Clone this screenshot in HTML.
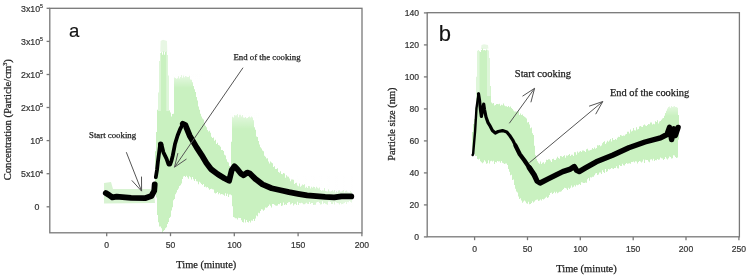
<!DOCTYPE html>
<html><head><meta charset="utf-8"><style>
html,body{margin:0;padding:0;background:#fff;width:748px;height:277px;overflow:hidden}
svg{display:block}
</style></head><body>
<svg width="748" height="277" viewBox="0 0 748 277">
<defs><filter id="bl" x="-5%" y="-5%" width="110%" height="110%"><feGaussianBlur stdDeviation="0.6"/></filter></defs>
<g filter="url(#bl)">
<polygon points="104,183 111,182 113,189 150,189 154,190 155,203 104,203.5" fill="#d8f3d2"/>
<polygon points="160.3,52 160.6,41 163,39.8 167,41 167.3,52" fill="#e8f7e4"/>
<polygon points="481,49 481.5,45 484,44.3 488,45 488.5,49" fill="#e8f7e4"/>
<path d="M153.5 186.7V197.8M154.5 184.3V194.8M155.5 151.3V188.8M156.5 131.9V197.6M157.5 109.8V215.1M158.5 92.6V222.2M159.5 61.0V226.4M160.5 53.1V226.4M161.5 52.2V228.2M162.5 54.7V232.9M163.5 51.4V231.0M164.5 54.7V230.0M165.5 51.9V228.2M166.5 51.2V227.3M167.5 55.0V224.1M168.5 75.4V222.0M169.5 110.3V218.1M170.5 112.6V216.7M171.5 116.6V210.5M172.5 114.1V207.3M173.5 113.7V200.3M174.5 77.6V198.9M175.5 78.1V194.2M176.5 78.8V192.4M177.5 78.3V189.9M178.5 76.3V188.5M179.5 78.4V185.9M180.5 76.9V185.2M181.5 75.0V183.6M182.5 77.8V178.9M183.5 75.4V176.4M184.5 77.2V176.0M185.5 75.9V177.0M186.5 76.5V175.8M187.5 76.9V177.3M188.5 77.1V178.7M189.5 75.8V176.3M190.5 79.6V177.3M191.5 79.7V179.5M192.5 82.3V177.0M193.5 85.9V179.3M194.5 89.2V181.0M195.5 91.9V178.9M196.5 97.1V181.3M197.5 100.4V181.6M198.5 106.6V184.2M199.5 109.7V181.8M200.5 113.8V182.7M201.5 116.4V184.1M202.5 118.4V185.0M203.5 119.4V183.9M204.5 124.0V187.0M205.5 125.8V186.5M206.5 127.3V187.6M207.5 130.0V187.1M208.5 131.6V188.3M209.5 130.8V189.7M210.5 132.7V189.0M211.5 136.8V188.7M212.5 138.1V189.2M213.5 137.6V189.5M214.5 140.7V192.7M215.5 139.8V193.4M216.5 143.9V192.9M217.5 142.8V191.9M218.5 144.9V194.3M219.5 145.4V193.1M220.5 146.7V194.4M221.5 150.0V194.1M222.5 150.0V194.3M223.5 151.1V194.8M224.5 154.7V195.7M225.5 155.6V193.2M226.5 159.3V195.9M227.5 161.7V193.8M228.5 162.6V196.9M229.5 166.1V194.4M230.5 169.2V194.6M231.5 141.7V195.3M232.5 116.8V206.3M233.5 117.4V216.9M234.5 115.1V217.4M235.5 115.6V218.2M236.5 115.2V218.2M237.5 114.1V219.6M238.5 117.3V217.7M239.5 114.7V218.0M240.5 114.8V218.0M241.5 116.6V220.3M242.5 115.1V222.1M243.5 117.6V222.4M244.5 117.7V219.3M245.5 117.0V222.6M246.5 118.3V220.0M247.5 118.0V222.1M248.5 117.0V222.6M249.5 116.6V221.1M250.5 117.6V222.5M251.5 116.6V220.4M252.5 117.5V220.7M253.5 120.2V219.0M254.5 127.3V221.1M255.5 129.7V218.6M256.5 136.5V215.6M257.5 136.9V216.3M258.5 140.9V212.7M259.5 144.6V213.2M260.5 147.2V211.1M261.5 148.5V209.2M262.5 150.4V209.4M263.5 151.3V210.7M264.5 155.8V209.8M265.5 156.7V207.6M266.5 158.5V207.8M267.5 158.2V207.3M268.5 161.6V205.9M269.5 163.4V204.6M270.5 161.5V205.7M271.5 162.4V207.4M272.5 163.3V204.1M273.5 166.9V204.1M274.5 166.3V204.7M275.5 168.9V205.4M276.5 169.1V205.8M277.5 168.2V205.4M278.5 171.9V204.1M279.5 172.8V204.3M280.5 171.2V203.0M281.5 174.0V205.9M282.5 174.2V205.5M283.5 172.9V202.5M284.5 173.4V204.9M285.5 177.7V204.2M286.5 175.2V205.0M287.5 176.5V202.9M288.5 176.7V202.2M289.5 178.5V201.9M290.5 181.2V204.4M291.5 179.4V203.7M292.5 179.4V203.0M293.5 179.8V205.4M294.5 183.9V204.3M295.5 183.1V203.7M296.5 182.7V205.1M297.5 185.6V201.7M298.5 186.2V204.9M299.5 183.6V203.0M300.5 186.7V203.2M301.5 185.8V202.8M302.5 184.5V203.2M303.5 184.9V204.3M304.5 184.2V204.2M305.5 187.8V203.5M306.5 186.8V202.8M307.5 188.1V203.7M308.5 186.0V203.9M309.5 186.2V202.0M310.5 188.6V204.0M311.5 186.7V203.1M312.5 187.8V202.9M313.5 186.8V205.0M314.5 187.0V204.8M315.5 188.4V204.7M316.5 186.8V202.6M317.5 187.8V202.0M318.5 188.6V201.8M319.5 187.5V203.1M320.5 190.0V204.6M321.5 190.7V204.3M322.5 190.2V201.2M323.5 190.5V203.7M324.5 188.0V202.9M325.5 191.1V203.7M326.5 191.2V204.3M327.5 191.4V204.7M328.5 189.3V201.4M329.5 191.3V201.4M330.5 191.5V202.0M331.5 191.1V204.1M332.5 190.3V204.1M333.5 191.5V202.2M334.5 189.9V204.4M335.5 192.5V201.7M336.5 191.1V202.6M337.5 192.3V202.9M338.5 190.6V203.3M339.5 190.2V204.5M340.5 191.7V203.0M341.5 191.5V204.3M342.5 190.7V204.0M343.5 189.9V203.5M344.5 192.6V202.9M345.5 191.1V201.9M346.5 190.5V204.0M347.5 191.7V202.1M348.5 192.2V202.2M349.5 192.5V201.0M350.5 191.1V201.7M351.5 192.1V202.6" stroke="#c9f1c0" stroke-width="1.02" fill="none"/>
<path d="M472.5 132.1V152.1M473.5 124.1V155.8M474.5 119.1V154.0M475.5 107.5V156.1M476.5 76.7V156.0M477.5 50.7V159.1M478.5 50.1V159.6M479.5 51.2V158.8M480.5 52.0V161.2M481.5 50.1V162.3M482.5 48.6V163.3M483.5 50.2V162.3M484.5 49.9V160.3M485.5 50.4V161.6M486.5 49.4V163.7M487.5 49.7V163.3M488.5 50.4V160.2M489.5 57.9V163.4M490.5 86.1V161.2M491.5 102.6V160.8M492.5 103.6V161.4M493.5 102.9V160.7M494.5 105.6V163.9M495.5 104.9V161.9M496.5 103.9V162.5M497.5 104.1V161.1M498.5 104.2V161.4M499.5 103.7V161.2M500.5 105.8V162.8M501.5 104.7V161.1M502.5 105.3V162.7M503.5 103.6V163.3M504.5 105.4V163.9M505.5 106.2V163.5M506.5 106.3V163.4M507.5 106.9V164.9M508.5 105.9V169.0M509.5 107.2V171.8M510.5 106.6V175.2M511.5 108.0V174.7M512.5 109.1V179.9M513.5 110.5V179.6M514.5 111.4V184.9M515.5 111.5V188.8M516.5 111.8V191.4M517.5 111.0V192.6M518.5 111.4V196.4M519.5 115.0V199.0M520.5 113.4V198.3M521.5 115.1V200.5M522.5 114.5V202.7M523.5 116.1V201.6M524.5 116.8V200.6M525.5 117.6V201.5M526.5 118.6V203.3M527.5 122.5V203.7M528.5 121.9V201.8M529.5 124.4V204.3M530.5 128.3V203.9M531.5 127.4V203.1M532.5 133.2V201.2M533.5 134.9V202.4M534.5 145.7V201.6M535.5 155.3V200.2M536.5 158.7V199.8M537.5 161.3V199.6M538.5 162.7V201.1M539.5 163.8V200.4M540.5 161.5V199.6M541.5 164.1V200.4M542.5 162.8V199.1M543.5 162.3V199.6M544.5 163.7V198.8M545.5 162.2V197.7M546.5 159.8V196.7M547.5 160.0V198.0M548.5 159.3V197.2M549.5 159.3V194.9M550.5 160.6V193.1M551.5 162.0V192.6M552.5 159.1V194.1M553.5 158.8V193.1M554.5 159.9V191.8M555.5 159.9V193.3M556.5 158.5V191.8M557.5 156.7V193.2M558.5 157.9V192.6M559.5 158.7V191.8M560.5 156.1V191.7M561.5 156.3V191.2M562.5 157.0V190.0M563.5 155.9V189.0M564.5 155.3V187.7M565.5 157.7V188.0M566.5 155.5V188.5M567.5 155.8V189.9M568.5 155.0V187.8M569.5 153.9V189.1M570.5 156.0V187.8M571.5 154.7V185.4M572.5 154.8V187.4M573.5 156.0V186.8M574.5 152.2V185.3M575.5 152.3V186.4M576.5 154.8V184.7M577.5 151.5V185.2M578.5 152.8V184.8M579.5 151.8V184.1M580.5 151.1V185.0M581.5 151.9V182.2M582.5 150.4V182.6M583.5 150.5V183.0M584.5 150.9V183.0M585.5 152.0V182.4M586.5 149.3V182.7M587.5 148.8V179.2M588.5 150.6V178.1M589.5 150.4V180.7M590.5 149.9V177.2M591.5 149.7V177.5M592.5 147.9V176.8M593.5 149.0V176.8M594.5 147.6V175.2M595.5 148.7V173.6M596.5 148.1V173.1M597.5 145.3V175.0M598.5 145.6V174.5M599.5 144.9V172.6M600.5 146.2V172.5M601.5 145.4V174.0M602.5 143.2V170.3M603.5 142.0V172.0M604.5 141.2V172.9M605.5 143.9V169.1M606.5 142.5V171.9M607.5 140.8V171.2M608.5 141.8V169.1M609.5 140.5V169.4M610.5 138.9V169.0M611.5 141.6V167.9M612.5 138.0V168.5M613.5 139.9V169.1M614.5 140.1V168.1M615.5 139.0V168.0M616.5 139.7V166.2M617.5 137.7V168.3M618.5 136.8V168.4M619.5 136.9V164.9M620.5 134.9V166.0M621.5 135.5V166.1M622.5 135.9V163.8M623.5 135.4V165.2M624.5 135.8V165.5M625.5 134.6V164.1M626.5 134.1V163.1M627.5 131.7V163.8M628.5 131.8V163.4M629.5 133.5V163.3M630.5 129.4V163.7M631.5 131.5V162.0M632.5 130.8V162.0M633.5 128.0V161.4M634.5 130.3V162.5M635.5 130.6V161.3M636.5 127.3V161.4M637.5 129.4V163.5M638.5 128.9V161.9M639.5 126.6V160.9M640.5 126.0V161.4M641.5 126.8V162.6M642.5 126.9V161.6M643.5 125.2V159.6M644.5 124.4V163.0M645.5 125.6V159.8M646.5 125.9V159.9M647.5 124.9V160.1M648.5 124.0V161.5M649.5 124.3V162.2M650.5 122.5V159.4M651.5 122.5V159.3M652.5 124.5V160.4M653.5 123.8V158.8M654.5 124.2V161.1M655.5 121.3V160.1M656.5 122.1V160.3M657.5 120.2V159.1M658.5 123.4V159.7M659.5 121.5V159.5M660.5 120.9V157.6M661.5 119.7V158.2M662.5 118.4V158.5M663.5 118.0V160.1M664.5 115.7V159.1M665.5 113.1V157.1M666.5 110.8V158.5M667.5 108.4V159.4M668.5 106.9V158.2M669.5 106.6V156.4M670.5 107.8V157.0M671.5 106.1V158.4M672.5 106.9V158.2M673.5 106.4V155.3M674.5 105.9V155.6M675.5 107.1V157.1M676.5 107.0V158.0M677.5 107.7V157.4M678.5 114.9V139.4" stroke="#c9f1c0" stroke-width="1.02" fill="none"/>
<linearGradient id="fd" x1="0" y1="0" x2="0" y2="1"><stop offset="0" stop-color="#fff" stop-opacity="0.6"/><stop offset="1" stop-color="#fff" stop-opacity="0"/></linearGradient>
<linearGradient id="fh" x1="0" y1="0" x2="1" y2="0"><stop offset="0" stop-color="#fff" stop-opacity="0"/><stop offset="1" stop-color="#fff" stop-opacity="0.55"/></linearGradient>
<rect x="280" y="176" width="75" height="32" fill="url(#fh)"/>
<g fill="url(#fd)"><rect x="172" y="74" width="30" height="14"/><rect x="230" y="112" width="30" height="17"/><rect x="665" y="104" width="16" height="12"/></g>
<g fill="#fff" opacity="0.4"><rect x="476" y="48" width="3.5" height="50"/><rect x="487" y="48" width="3.5" height="48"/><rect x="158" y="51" width="2.8" height="60"/><rect x="166.3" y="51" width="3" height="60"/></g>
</g>
<polyline points="105.8,193.0 109.0,195.0 112.3,197.4 116.7,196.7 131.1,197.8 145.6,198.1 151.4,196.0 154.2,190.9 154.7,184.5" fill="none" stroke="#000" stroke-width="5.8" stroke-linejoin="round" stroke-linecap="round"/>
<polyline points="155.8,177.2 157.0,170.0 158.0,161.0 159.0,153.4 160.1,144.7 161.5,144.5 163.4,152.3 166.6,158.8 168.5,164.5 170.2,164.5 171.4,161.0 172.8,155.4 175.0,144.0 177.6,135.5 180.2,129.0 183.0,123.8" fill="none" stroke="#000" stroke-width="3.8" stroke-linejoin="round" stroke-linecap="round"/>
<circle cx="160.6" cy="144.2" r="2.6" fill="#000"/>
<polyline points="182.8,123.8 185.4,125.1 189.7,135.7 196.6,147.4 201.5,154.8 206.4,162.9 211.3,169.4 217.8,174.3 224.3,178.3 229.1,180.8 231.8,169.9 234.5,166.3 237.2,169.0 240.8,173.5 243.6,175.3 247.2,172.6 249.9,173.5 255.3,178.9 262.5,184.4 271.6,188.2 280.6,190.3 289.0,192.2 298.0,193.8 307.1,195.3 316.1,196.2 325.1,196.9 334.2,197.4 341.4,196.3 351.3,196.4" fill="none" stroke="#000" stroke-width="5.8" stroke-linejoin="round" stroke-linecap="round"/>
<polyline points="472.6,155.0 473.1,154.2 475.1,131.1 476.5,108.1 478.5,93.8" fill="none" stroke="#000" stroke-width="2.4" stroke-linejoin="round" stroke-linecap="round"/>
<polyline points="478.5,93.8 479.5,100.0 480.5,110.0 481.4,116.5 482.5,110.0 483.7,104.0 484.5,109.6 486.0,117.0 488.0,122.6 490.2,126.2 492.4,130.5 495.3,133.0 498.2,131.5 502.5,130.6 506.8,132.0 509.7,135.5 512.6,139.8 515.5,145.6" fill="none" stroke="#000" stroke-width="3.2" stroke-linejoin="round" stroke-linecap="round"/>
<polyline points="515.5,145.6 519.8,154.2 524.3,160.2 529.4,167.8" fill="none" stroke="#000" stroke-width="4.3" stroke-linejoin="round" stroke-linecap="round"/>
<polyline points="529.4,167.8 534.4,175.3 537.0,181.0 540.1,183.0 547.7,179.2 555.2,175.4 562.8,171.6 570.4,169.1 574.2,166.6 576.7,170.4 579.2,171.6 585.5,167.9 596.3,161.8 612.5,155.3 628.8,147.8 645.0,142.0 660.5,137.8 667.0,134.5 669.5,127.4 671.6,139.6 674.0,128.8 675.4,135.5 678.1,127.4" fill="none" stroke="#000" stroke-width="5.4" stroke-linejoin="round" stroke-linecap="round"/>
<g stroke="#555" stroke-width="1" fill="none">
<line x1="126.3" y1="152.2" x2="141.6" y2="191.1"/>
<line x1="141.6" y1="191.1" x2="131.8" y2="180.4"/>
<line x1="141.6" y1="191.1" x2="141.5" y2="176.6"/>
<line x1="243" y1="67.7" x2="174.5" y2="167.2"/>
<line x1="174.5" y1="167.2" x2="177.9" y2="153.1"/>
<line x1="174.5" y1="167.2" x2="186.5" y2="159.0"/>
<line x1="509.3" y1="123.3" x2="534.6" y2="88.3"/>
<line x1="534.6" y1="88.3" x2="530.9" y2="102.3"/>
<line x1="534.6" y1="88.3" x2="522.5" y2="96.2"/>
<line x1="529.4" y1="162.7" x2="602.8" y2="101.5"/>
<line x1="602.8" y1="101.5" x2="595.7" y2="114.2"/>
<line x1="602.8" y1="101.5" x2="589.1" y2="106.2"/>
</g>
<g stroke="#787878" stroke-width="1.3" fill="none">
<rect x="49.8" y="8.3" width="312.2" height="224.5"/>
<rect x="427.2" y="12.7" width="312.2" height="224.1"/>
<line x1="46.6" y1="8.3" x2="49.8" y2="8.3"/>
<line x1="46.6" y1="41.4" x2="49.8" y2="41.4"/>
<line x1="46.6" y1="74.5" x2="49.8" y2="74.5"/>
<line x1="46.6" y1="107.5" x2="49.8" y2="107.5"/>
<line x1="46.6" y1="140.6" x2="49.8" y2="140.6"/>
<line x1="46.6" y1="173.7" x2="49.8" y2="173.7"/>
<line x1="46.6" y1="206.8" x2="49.8" y2="206.8"/>
<line x1="106.7" y1="232.8" x2="106.7" y2="236.2"/>
<line x1="170.5" y1="232.8" x2="170.5" y2="236.2"/>
<line x1="234.3" y1="232.8" x2="234.3" y2="236.2"/>
<line x1="298.1" y1="232.8" x2="298.1" y2="236.2"/>
<line x1="361.9" y1="232.8" x2="361.9" y2="236.2"/>
<line x1="423.9" y1="236.9" x2="427.2" y2="236.9"/>
<line x1="423.9" y1="204.9" x2="427.2" y2="204.9"/>
<line x1="423.9" y1="172.9" x2="427.2" y2="172.9"/>
<line x1="423.9" y1="140.9" x2="427.2" y2="140.9"/>
<line x1="423.9" y1="108.9" x2="427.2" y2="108.9"/>
<line x1="423.9" y1="76.9" x2="427.2" y2="76.9"/>
<line x1="423.9" y1="44.9" x2="427.2" y2="44.9"/>
<line x1="423.9" y1="12.9" x2="427.2" y2="12.9"/>
<line x1="474.6" y1="236.9" x2="474.6" y2="240.2"/>
<line x1="527.5" y1="236.9" x2="527.5" y2="240.2"/>
<line x1="580.3" y1="236.9" x2="580.3" y2="240.2"/>
<line x1="633.2" y1="236.9" x2="633.2" y2="240.2"/>
<line x1="686.0" y1="236.9" x2="686.0" y2="240.2"/>
<line x1="738.9" y1="236.9" x2="738.9" y2="240.2"/>
</g>
<g font-family="Liberation Sans, Arial, sans-serif" stroke="#333" stroke-width="0.2" font-size="8.8" fill="#333" text-anchor="end">
<text x="43" y="11.5">3x10<tspan dy="-3.3" font-size="5.2">5</tspan></text>
<text x="43" y="44.6">3x10<tspan dy="-3.3" font-size="5.2">5</tspan></text>
<text x="43" y="77.7">2x10<tspan dy="-3.3" font-size="5.2">5</tspan></text>
<text x="43" y="110.7">2x10<tspan dy="-3.3" font-size="5.2">5</tspan></text>
<text x="43" y="143.8">10<tspan dy="-3.3" font-size="5.2">5</tspan></text>
<text x="43" y="176.9">5x10<tspan dy="-3.3" font-size="5.2">4</tspan></text>
<text x="39.5" y="210.0">0</text>
</g>
<g font-family="Liberation Sans, Arial, sans-serif" stroke="#333" stroke-width="0.2" font-size="8.6" fill="#333" text-anchor="middle">
<text x="106.7" y="248">0</text>
<text x="170.5" y="248">50</text>
<text x="234.3" y="248">100</text>
<text x="298.1" y="248">150</text>
<text x="361.9" y="248">200</text>
</g>
<g font-family="Liberation Sans, Arial, sans-serif" stroke="#333" stroke-width="0.2" font-size="8.6" fill="#333" text-anchor="end">
<text x="419" y="240.0">0</text>
<text x="419" y="208.0">20</text>
<text x="419" y="176.0">40</text>
<text x="419" y="144.0">60</text>
<text x="419" y="112.0">80</text>
<text x="419" y="80.0">100</text>
<text x="419" y="48.0">120</text>
<text x="419" y="16.0">140</text>
</g>
<g font-family="Liberation Sans, Arial, sans-serif" stroke="#333" stroke-width="0.2" font-size="8.6" fill="#333" text-anchor="middle">
<text x="474.6" y="252.3">0</text>
<text x="527.5" y="252.3">50</text>
<text x="580.3" y="252.3">100</text>
<text x="633.2" y="252.3">150</text>
<text x="686.0" y="252.3">200</text>
<text x="738.9" y="252.3">250</text>
</g>
<text font-family="Liberation Serif, serif" stroke="#222" stroke-width="0.25" font-size="10.4" fill="#222" x="206.3" y="267.6" text-anchor="middle">Time (minute)</text>
<text font-family="Liberation Serif, serif" stroke="#222" stroke-width="0.25" font-size="10.5" fill="#222" x="586.5" y="271.9" text-anchor="middle">Time (minute)</text>
<text font-family="Liberation Serif, serif" stroke="#222" stroke-width="0.25" font-size="10.6" fill="#222" transform="translate(10.9,119.8) rotate(-90)" text-anchor="middle">Concentration (Particle/cm<tspan dy="-3.5" font-size="6">3</tspan><tspan dy="3.5">)</tspan></text>
<text font-family="Liberation Serif, serif" stroke="#222" stroke-width="0.25" font-size="10.4" fill="#222" transform="translate(394.8,124.2) rotate(-90)" text-anchor="middle">Particle size (nm)</text>
<text font-family="Liberation Serif, serif" stroke="#222" stroke-width="0.25" font-size="8.8" fill="#222" x="89" y="137.8">Start cooking</text>
<text font-family="Liberation Serif, serif" stroke="#222" stroke-width="0.25" font-size="8.8" fill="#222" x="233.4" y="59.9">End of the cooking</text>
<text font-family="Liberation Serif, serif" stroke="#222" stroke-width="0.25" font-size="10.5" fill="#222" x="514.8" y="77.1">Start cooking</text>
<text font-family="Liberation Serif, serif" stroke="#222" stroke-width="0.25" font-size="10.4" fill="#222" x="609.9" y="96">End of the cooking</text>
<text font-family="Liberation Sans, Arial, sans-serif" stroke="#333" stroke-width="0.2" font-size="18.6" fill="#111" x="69" y="36.5">a</text>
<text font-family="Liberation Sans, Arial, sans-serif" stroke="#333" stroke-width="0.2" font-size="22" fill="#111" x="438.8" y="40.8">b</text>
</svg>
</body></html>
